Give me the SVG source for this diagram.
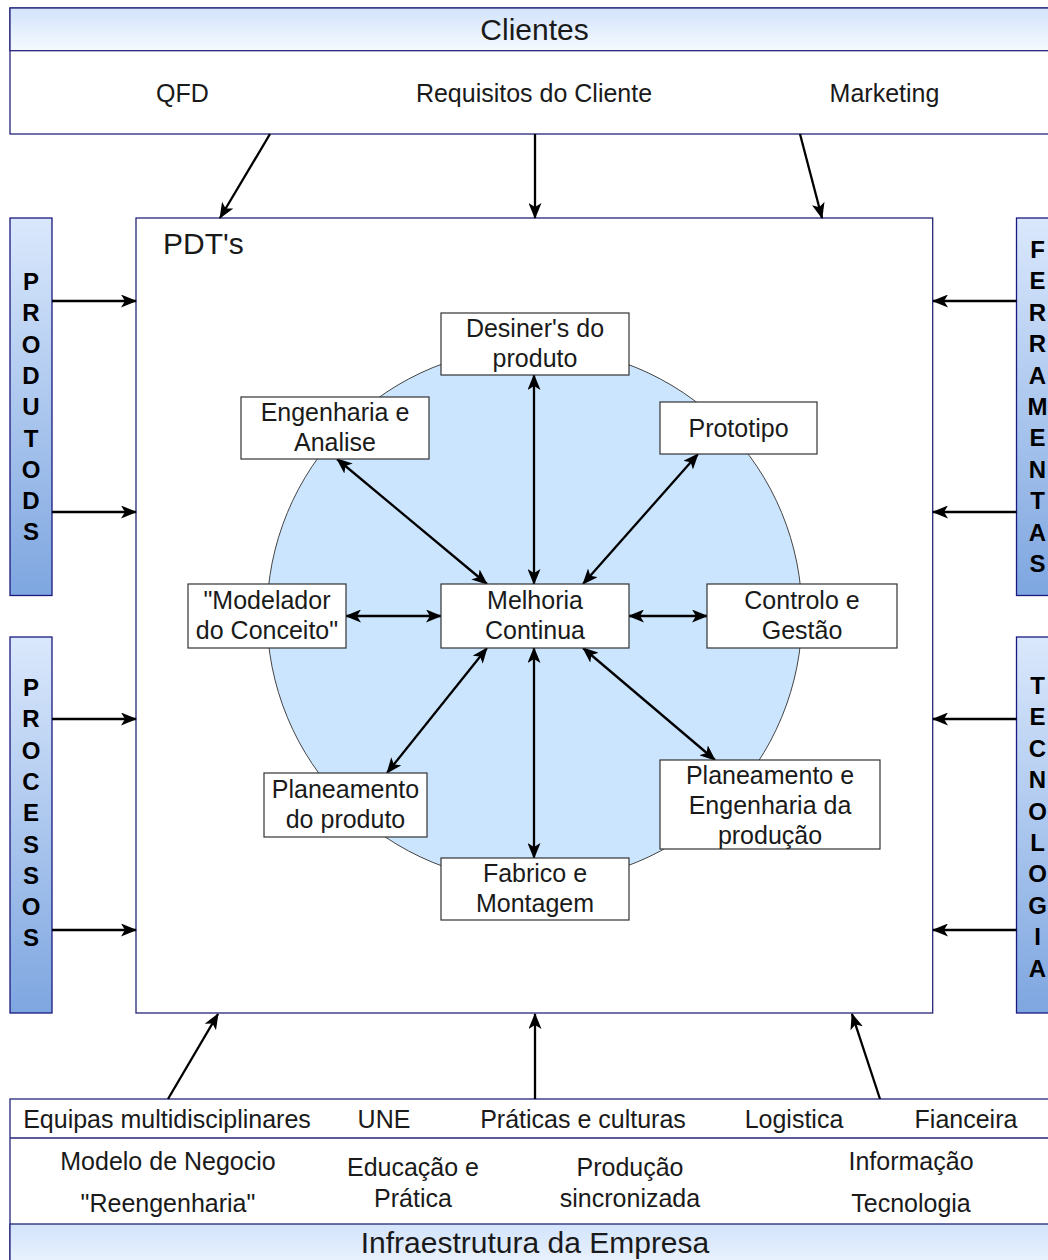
<svg xmlns="http://www.w3.org/2000/svg" width="1048" height="1260" viewBox="0 0 1048 1260">
<defs>
<linearGradient id="hdr" x1="0" y1="0" x2="0" y2="1"><stop offset="0" stop-color="#d2e3fb"/><stop offset="1" stop-color="#f6faff"/></linearGradient>
<linearGradient id="bar" x1="0" y1="0" x2="0" y2="1"><stop offset="0" stop-color="#dae8fc"/><stop offset="1" stop-color="#7ea6e0"/></linearGradient>
<marker id="arr" viewBox="0 0 16 13" refX="15" refY="6.5" markerWidth="16" markerHeight="13" markerUnits="userSpaceOnUse" orient="auto-start-reverse"><path d="M0,0 L16,6.5 L0,13 L4,6.5 Z" fill="#000"/></marker>
</defs>
<style>
.lane{fill:#fff;stroke:#25257a;stroke-width:1.3}
.hd{fill:url(#hdr);stroke:#25257a;stroke-width:1.3}
.bar{fill:url(#bar);stroke:#1a1a80;stroke-width:1.3}
.box{fill:#fff;stroke:#333;stroke-width:1.2}
.t{font-family:"Liberation Sans",Arial,Helvetica,sans-serif;font-size:25px;fill:#1a1a1a;text-anchor:middle}
.title{font-size:30px}
.v{font-family:"Liberation Sans",Arial,Helvetica,sans-serif;font-weight:bold;font-size:24px;text-anchor:middle;fill:#000}
.c{stroke:#000;stroke-width:2.3;fill:none}
.e{marker-end:url(#arr)}
.d{marker-start:url(#arr);marker-end:url(#arr)}
</style>
<rect width="1048" height="1260" fill="#fff"/>

<g id="clientes">
<rect class="lane" x="10" y="8" width="1060" height="126"/>
<rect class="hd" x="10" y="8" width="1060" height="42.7"/>
<text class="t title" x="534.5" y="40">Clientes</text>
<text class="t" x="182.5" y="102">QFD</text>
<text class="t" x="534" y="102">Requisitos do Cliente</text>
<text class="t" x="884.5" y="102">Marketing</text>
</g>

<g id="infraestrutura">
<rect class="lane" x="10" y="1099" width="1060" height="190"/>
<line x1="10" y1="1138" x2="1070" y2="1138" stroke="#25257a" stroke-width="1.3"/>
<rect class="hd" x="10" y="1224" width="1060" height="60"/>
<text class="t title" x="535" y="1253">Infraestrutura da Empresa</text>
<text class="t" x="167" y="1128">Equipas multidisciplinares</text>
<text class="t" x="384" y="1128">UNE</text>
<text class="t" x="583" y="1128">Práticas e culturas</text>
<text class="t" x="794" y="1128">Logistica</text>
<text class="t" x="966" y="1128">Fianceira</text>
<text class="t" x="168" y="1170">Modelo de Negocio</text>
<text class="t" x="168" y="1212">"Reengenharia"</text>
<text class="t" x="413" y="1176">Educação e</text>
<text class="t" x="413" y="1207">Prática</text>
<text class="t" x="630" y="1176">Produção</text>
<text class="t" x="630" y="1207">sincronizada</text>
<text class="t" x="911" y="1170">Informação</text>
<text class="t" x="911" y="1212">Tecnologia</text>
</g>

<g id="produtos">
<rect class="bar" x="10" y="218" width="42" height="377.5"/>
<text class="v" x="31" y="290"><tspan x="31">P</tspan><tspan x="31" dy="31.3">R</tspan><tspan x="31" dy="31.3">O</tspan><tspan x="31" dy="31.3">D</tspan><tspan x="31" dy="31.3">U</tspan><tspan x="31" dy="31.3">T</tspan><tspan x="31" dy="31.3">O</tspan><tspan x="31" dy="31.3">D</tspan><tspan x="31" dy="31.3">S</tspan></text>
</g>

<g id="processos">
<rect class="bar" x="10" y="637" width="42" height="376"/>
<text class="v" x="31" y="696"><tspan x="31">P</tspan><tspan x="31" dy="31.3">R</tspan><tspan x="31" dy="31.3">O</tspan><tspan x="31" dy="31.3">C</tspan><tspan x="31" dy="31.3">E</tspan><tspan x="31" dy="31.3">S</tspan><tspan x="31" dy="31.3">S</tspan><tspan x="31" dy="31.3">O</tspan><tspan x="31" dy="31.3">S</tspan></text>
</g>

<g id="ferramentas">
<rect class="bar" x="1016.5" y="218" width="42" height="377.5"/>
<text class="v" x="1037.5" y="258"><tspan x="1037.5">F</tspan><tspan x="1037.5" dy="31.4">E</tspan><tspan x="1037.5" dy="31.4">R</tspan><tspan x="1037.5" dy="31.4">R</tspan><tspan x="1037.5" dy="31.4">A</tspan><tspan x="1037.5" dy="31.4">M</tspan><tspan x="1037.5" dy="31.4">E</tspan><tspan x="1037.5" dy="31.4">N</tspan><tspan x="1037.5" dy="31.4">T</tspan><tspan x="1037.5" dy="31.4">A</tspan><tspan x="1037.5" dy="31.4">S</tspan></text>
</g>

<g id="tecnologia">
<rect class="bar" x="1016.5" y="637" width="42" height="376"/>
<text class="v" x="1037.5" y="694"><tspan x="1037.5">T</tspan><tspan x="1037.5" dy="31.4">E</tspan><tspan x="1037.5" dy="31.4">C</tspan><tspan x="1037.5" dy="31.4">N</tspan><tspan x="1037.5" dy="31.4">O</tspan><tspan x="1037.5" dy="31.4">L</tspan><tspan x="1037.5" dy="31.4">O</tspan><tspan x="1037.5" dy="31.4">G</tspan><tspan x="1037.5" dy="31.4">I</tspan><tspan x="1037.5" dy="31.4">A</tspan></text>
</g>

<g id="pdts">
<rect class="lane" x="136" y="218" width="796.7" height="795"/>
<text class="t title" x="163" y="254" style="text-anchor:start">PDT's</text>
</g>

<g id="circulo">
<circle cx="534.5" cy="615" r="267.5" fill="#cce5ff" stroke="#444" stroke-width="1"/>
</g>

<g id="connectors">
<line class="c e" x1="270" y1="134" x2="220" y2="218"/>
<line class="c e" x1="535" y1="134" x2="535" y2="218"/>
<line class="c e" x1="800" y1="134" x2="822" y2="218"/>
<line class="c e" x1="52" y1="301" x2="136" y2="301"/>
<line class="c e" x1="52" y1="512" x2="136" y2="512"/>
<line class="c e" x1="52" y1="719" x2="136" y2="719"/>
<line class="c e" x1="52" y1="930" x2="136" y2="930"/>
<line class="c e" x1="1016.5" y1="301" x2="933" y2="301"/>
<line class="c e" x1="1016.5" y1="512" x2="933" y2="512"/>
<line class="c e" x1="1016.5" y1="719" x2="933" y2="719"/>
<line class="c e" x1="1016.5" y1="930" x2="933" y2="930"/>
<line class="c e" x1="168" y1="1099" x2="218" y2="1014"/>
<line class="c e" x1="535" y1="1099" x2="535" y2="1014"/>
<line class="c e" x1="880" y1="1099" x2="852" y2="1014"/>
<line class="c d" x1="534" y1="375" x2="534" y2="584"/>
<line class="c d" x1="337" y1="459" x2="487" y2="584"/>
<line class="c d" x1="698" y1="454" x2="583" y2="584"/>
<line class="c d" x1="346" y1="616" x2="441" y2="616"/>
<line class="c d" x1="629" y1="616" x2="707" y2="616"/>
<line class="c d" x1="487" y1="648" x2="387" y2="773"/>
<line class="c d" x1="534" y1="648" x2="534" y2="858"/>
<line class="c d" x1="583" y1="648" x2="715" y2="760"/>
</g>

<g id="desiners">
<rect class="box" x="441" y="313" width="188" height="62"/>
<text class="t" x="535" y="337">Desiner's do</text>
<text class="t" x="535" y="367">produto</text>
</g>
<g id="engenharia">
<rect class="box" x="241" y="397" width="188" height="62"/>
<text class="t" x="335" y="421">Engenharia e</text>
<text class="t" x="335" y="451">Analise</text>
</g>
<g id="prototipo">
<rect class="box" x="660" y="402" width="157" height="52"/>
<text class="t" x="738.5" y="437">Prototipo</text>
</g>
<g id="modelador">
<rect class="box" x="188" y="584" width="158" height="64"/>
<text class="t" x="267" y="609">"Modelador</text>
<text class="t" x="267" y="639">do Conceito"</text>
</g>
<g id="melhoria">
<rect class="box" x="441" y="584" width="188" height="64"/>
<text class="t" x="535" y="609">Melhoria</text>
<text class="t" x="535" y="639">Continua</text>
</g>
<g id="controlo">
<rect class="box" x="707" y="584" width="190" height="64"/>
<text class="t" x="802" y="609">Controlo e</text>
<text class="t" x="802" y="639">Gestão</text>
</g>
<g id="planeamento-produto">
<rect class="box" x="264" y="773" width="163" height="64"/>
<text class="t" x="345.5" y="798">Planeamento</text>
<text class="t" x="345.5" y="828">do produto</text>
</g>
<g id="planeamento-producao">
<rect class="box" x="660" y="760" width="220" height="89"/>
<text class="t" x="770" y="784">Planeamento e</text>
<text class="t" x="770" y="814">Engenharia da</text>
<text class="t" x="770" y="844">produção</text>
</g>
<g id="fabrico">
<rect class="box" x="441" y="858" width="188" height="62"/>
<text class="t" x="535" y="882">Fabrico e</text>
<text class="t" x="535" y="912">Montagem</text>
</g>
</svg>
